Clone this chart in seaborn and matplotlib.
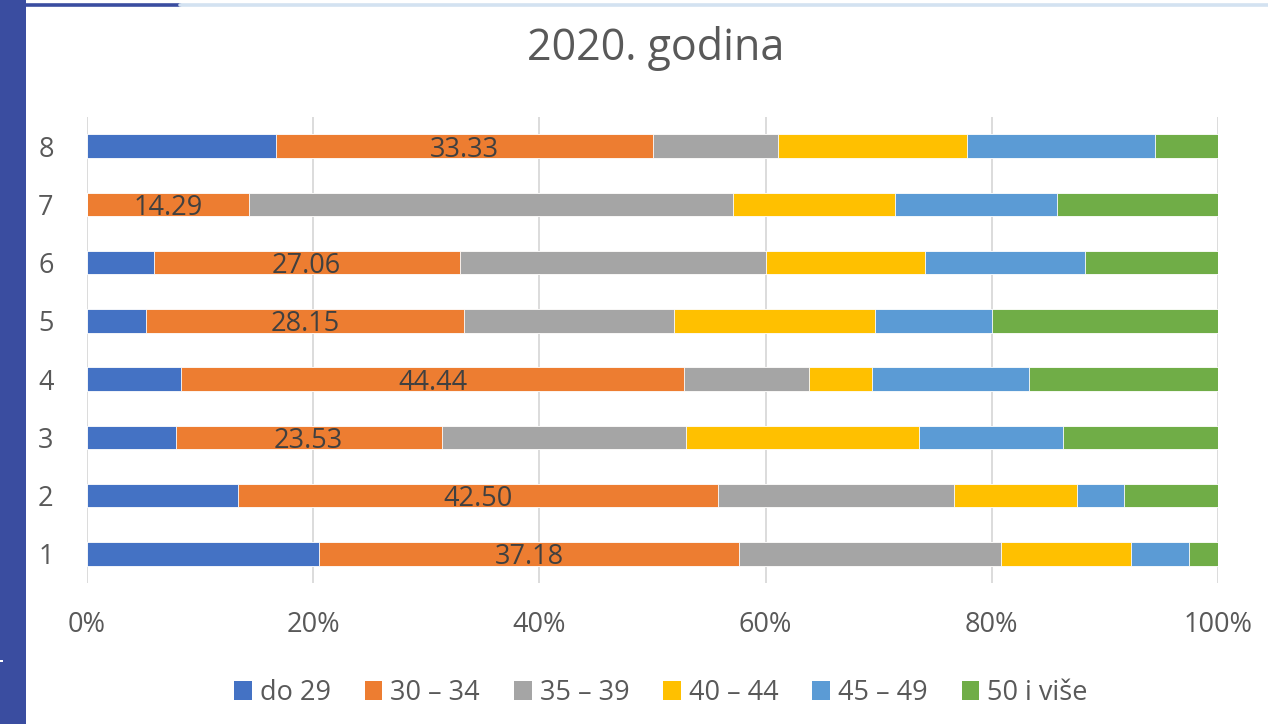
import matplotlib
matplotlib.use("Agg")
import matplotlib.pyplot as plt
from matplotlib.patches import Patch, Rectangle
from matplotlib.lines import Line2D
import seaborn as sns
import pandas as pd
import numpy as np

# ---- data ----
categories = ['1', '2', '3', '4', '5', '6', '7', '8']
series_names = ['do 29', '30 – 34', '35 – 39', '40 – 44', '45 – 49', '50 i više']
do_29 = [20.51, 13.33, 7.84, 8.33, 5.19, 5.88, 0.00, 16.67]
g30_34 = [37.18, 42.50, 23.53, 44.44, 28.15, 27.06, 14.29, 33.33]
g35_39 = [23.08, 20.83, 21.57, 11.11, 18.52, 27.06, 42.86, 11.11]
g40_44 = [11.54, 10.83, 20.59, 5.56, 17.78, 14.12, 14.29, 16.67]
g45_49 = [5.13, 4.17, 12.75, 13.89, 10.37, 14.12, 14.29, 16.67]
g50_plus = [2.56, 8.33, 13.73, 16.67, 20.00, 11.76, 14.29, 5.56]
x_ticks = [0, 20, 40, 60, 80, 100]
title = '2020. godina'

colors = ['#4472C4', '#ED7D31', '#A5A5A5', '#FFC000', '#5B9BD5', '#70AD47']
series = [do_29, g30_34, g35_39, g40_44, g45_49, g50_plus]

sns.set_style('white')
plt.rcParams['font.family'] = ['Open Sans', 'DejaVu Sans']

W, H = 1268, 724
fig = plt.figure(figsize=(W / 100, H / 100), dpi=100)
ax = fig.add_axes([87 / W, 1 - 583 / H, (1218 - 87) / W, (583 - 117) / H])

df = pd.DataFrame({'cat': categories})
cum = np.cumsum(np.array(series), axis=0)
for k, name in enumerate(series_names):
    df[name] = cum[k]

order = categories[::-1]
# draw cumulative totals from the largest down, so each series shows as its own segment
for k in range(len(series_names) - 1, -1, -1):
    sns.barplot(data=df, x=series_names[k], y='cat', order=order, orient='h',
                color=colors[k], saturation=1, width=0.4, errorbar=None,
                edgecolor='white', linewidth=0.6, ax=ax)

# data labels for 30 – 34 series
for i, c in enumerate(order):
    j = categories.index(c)
    left = do_29[j]
    val = g30_34[j]
    ax.text(left + val / 2, i, f'{val:.2f}', ha='center', va='center_baseline',
            fontsize=19.5, color='#404040')

ax.set_xlim(0, 100)
ax.set_ylim(len(order) - 0.5, -0.5)
ax.set_xticks(x_ticks)
ax.set_xticklabels([f'{t}%' for t in x_ticks])
ax.set_xlabel('')
ax.set_ylabel('')
ax.xaxis.grid(True, color='#D9D9D9', linewidth=1.3)
ax.yaxis.grid(False)
ax.set_axisbelow(True)
for s in ax.spines.values():
    s.set_visible(False)
ax.tick_params(axis='x', length=0, pad=20, labelsize=19.5, labelcolor='#595959')
ax.tick_params(axis='y', length=0, pad=24, labelsize=19.5, labelcolor='#595959')

# title
fig.text(656 / W, 1 - 43 / H, title, ha='center', va='center_baseline', fontsize=31, color='#595959')

# legend
handles = [Patch(facecolor=colors[k], edgecolor='none') for k in range(len(series_names))]
fig.legend(handles, series_names, loc='center', bbox_to_anchor=(661 / W, 1 - 693 / H),
           ncol=6, frameon=False, fontsize=19.5, handlelength=0.65, handleheight=0.65,
           handletextpad=0.3, columnspacing=1.25, labelcolor='#595959')

# slide decorations: left strip and top rule
fig.patches.append(Rectangle((0, 0), 26 / W, 1, transform=fig.transFigure,
                             facecolor='#3A4DA0', edgecolor='none', zorder=0))
fig.add_artist(Line2D([26 / W, 180 / W], [1 - 5 / H, 1 - 5 / H], transform=fig.transFigure,
                      color='#3A4DA0', linewidth=2.6))
fig.add_artist(Line2D([180 / W, 1], [1 - 5 / H, 1 - 5 / H], transform=fig.transFigure,
                      color='#D3E2F1', linewidth=2.6))
fig.patches.append(Rectangle((0, 1 - 662 / H), 3 / W, 2 / H, transform=fig.transFigure,
                             facecolor='white', edgecolor='none', zorder=1))

fig.savefig('out.png', dpi=100)
